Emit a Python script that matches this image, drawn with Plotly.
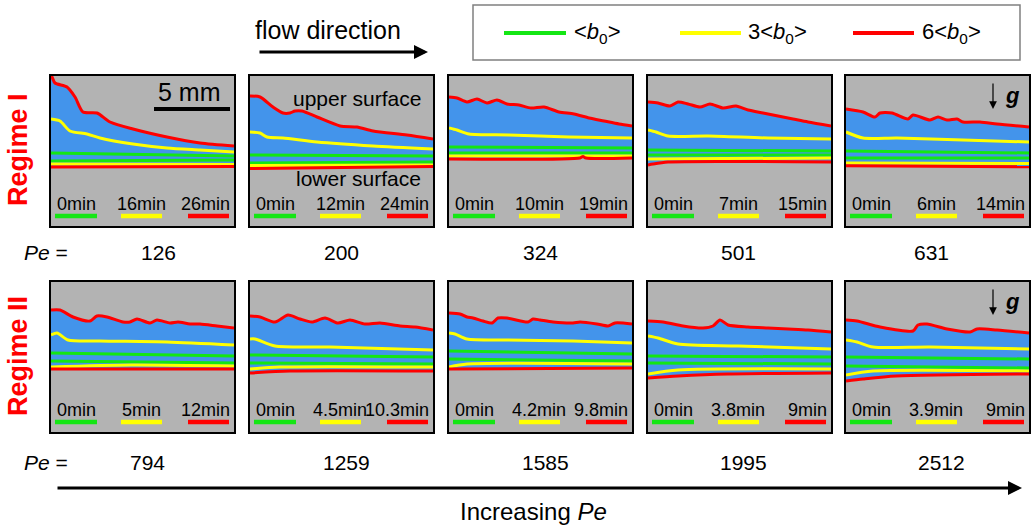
import plotly.graph_objects as go

W, H = 1031, 525

# ---------------- data ----------------
PE_ROW1 = [126, 200, 324, 501, 631]
PE_ROW2 = [794, 1259, 1585, 1995, 2512]

TIMES_ROW1 = [["0min", "16min", "26min"], ["0min", "12min", "24min"], ["0min", "10min", "19min"],
              ["0min", "7min", "15min"], ["0min", "6min", "14min"]]
TIMES_ROW2 = [["0min", "5min", "12min"], ["0min", "4.5min", "10.3min"], ["0min", "4.2min", "9.8min"],
              ["0min", "3.8min", "9min"], ["0min", "3.9min", "9min"]]

LEGEND_LABELS = ["&lt;<i>b</i><sub>0</sub>&gt;", "3&lt;<i>b</i><sub>0</sub>&gt;", "6&lt;<i>b</i><sub>0</sub>&gt;"]

# interface profiles: (x positions, depth from panel top), panel units
R1C1_RED_TOP = ([0, 1, 4, 16, 24, 32, 46, 59, 82, 116, 149, 183], [0, 1, 7, 11, 21, 36, 37, 46, 53, 61, 67, 70])
R1C1_YEL_TOP = ([0, 9, 19, 36, 49, 82, 116, 149, 183], [43, 45, 55, 58, 62, 68, 72, 74, 76])
R1C1_GRN_TOP = ([0, 183], [77, 80])
R1C1_GRN_BOT = ([0, 183], [85, 84])
R1C1_YEL_BOT = ([0, 183], [88, 88.5])
R1C1_RED_BOT = ([0, 183], [91, 90.5])

R1C2_RED_TOP = ([0, 10, 23, 33, 40, 45, 52, 67, 90, 107, 123, 157, 183], [20, 21, 31, 37, 37, 35, 35, 41, 50, 51, 55, 59, 63])
R1C2_YEL_TOP = ([0, 10, 17, 33, 67, 123, 183], [56, 57, 61, 62, 66, 70, 73])
R1C2_GRN_TOP = ([0, 183], [79, 80])
R1C2_GRN_BOT = ([0, 183], [87, 86])
R1C2_YEL_BOT = ([0, 183], [89.5, 89])
R1C2_RED_BOT = ([0, 183], [92.5, 90.5])

R1C3_RED_TOP = ([0, 8, 18, 28, 38, 48, 58, 70, 82, 95, 110, 125, 140, 155, 170, 183],
                [21, 22, 26, 23, 27, 24, 28, 29, 32, 31, 36, 38, 42, 45, 48, 50])
R1C3_YEL_TOP = ([0, 8, 20, 60, 120, 183], [52, 54, 58, 59, 61, 62])
R1C3_GRN_TOP = ([0, 183], [71, 72])
R1C3_GRN_BOT = ([0, 183], [77, 77])
R1C3_YEL_BOT = ([0, 183], [80, 80])
R1C3_RED_BOT = ([0, 131, 134, 137, 183], [83, 82, 80.5, 82, 82])

R1C4_RED_TOP = ([0, 10, 22, 30, 40, 52, 62, 75, 88, 100, 115, 130, 145, 160, 183],
                [26, 27, 30, 26, 28, 31, 28, 32, 30, 34, 37, 40, 43, 46, 50])
R1C4_YEL_TOP = ([0, 8, 20, 60, 120, 183], [54, 56, 60, 60, 62, 63])
R1C4_GRN_TOP = ([0, 183], [74, 75])
R1C4_GRN_BOT = ([0, 183], [79, 79])
R1C4_YEL_BOT = ([0, 183], [83, 82])
R1C4_RED_BOT = ([0, 5, 20, 183], [89, 88, 86, 86])

R1C5_RED_TOP = ([0, 17, 29, 34, 46, 62, 67, 84, 92, 101, 111, 117, 134, 151, 183], [33, 36, 41, 37, 37, 43, 39, 44, 41, 44, 43, 46, 46, 48, 51])
R1C5_YEL_TOP = ([0, 17, 51, 117, 183], [56, 62, 62, 64, 66])
R1C5_GRN_TOP = ([0, 183], [75, 77])
R1C5_GRN_BOT = ([0, 183], [82, 82])
R1C5_YEL_BOT = ([0, 183], [87, 87.5])
R1C5_RED_BOT = ([0, 183], [89.7, 90.7])

R2C1_RED_TOP = ([0, 9, 22, 39, 46, 56, 72, 79, 86, 99, 106, 119, 127, 139, 149, 166, 183], [28, 28, 35, 39, 34, 35, 40, 40, 37, 41, 38, 41, 40, 42, 42, 44, 46])
R2C1_YEL_TOP = ([0, 6, 17, 49, 116, 183], [53, 51, 58, 59, 60, 63])
R2C1_GRN_TOP = ([0, 183], [71, 74])
R2C1_GRN_BOT = ([0, 183], [79, 81])
R2C1_YEL_BOT = ([0, 80, 183], [85, 83, 84])
R2C1_RED_BOT = ([0, 183], [87, 87])

R2C2_RED_TOP = ([0, 10, 25, 38, 50, 62, 75, 88, 100, 115, 130, 150, 165, 183], [34, 35, 40, 33, 37, 40, 36, 41, 38, 42, 41, 44, 45, 48])
R2C2_YEL_TOP = ([0, 5, 25, 80, 183], [57, 57, 64, 65, 68])
R2C2_GRN_TOP = ([0, 183], [73, 75])
R2C2_GRN_BOT = ([0, 183], [81, 82])
R2C2_YEL_BOT = ([0, 30, 183], [87, 85, 85])
R2C2_RED_BOT = ([0, 40, 183], [91, 89, 89])

R2C3_RED_TOP = ([0, 11, 18, 24, 34, 43, 49, 58, 79, 84, 91, 104, 124, 131, 148, 159, 166, 183], [31, 32, 35, 36, 39, 41, 36, 36, 40, 37, 38, 40, 41, 40, 42, 44, 41, 42])
R2C3_YEL_TOP = ([0, 6, 18, 58, 124, 183], [51, 52, 57, 58, 59, 61])
R2C3_GRN_TOP = ([0, 183], [69, 72])
R2C3_GRN_BOT = ([0, 183], [77, 79])
R2C3_YEL_BOT = ([0, 18, 183], [85, 82, 82])
R2C3_RED_BOT = ([0, 183], [87, 86])

R2C4_RED_TOP = ([0, 15, 35, 55, 65, 72, 80, 100, 120, 140, 160, 183], [39, 40, 44, 46, 44, 38, 43, 45, 46, 47, 48, 50])
R2C4_YEL_TOP = ([0, 10, 30, 90, 183], [54, 56, 62, 64, 67])
R2C4_GRN_TOP = ([0, 183], [74, 75])
R2C4_GRN_BOT = ([0, 183], [81, 82])
R2C4_YEL_BOT = ([0, 30, 183], [92, 88, 87])
R2C4_RED_BOT = ([0, 30, 80, 183], [96, 94, 92, 91])

R2C5_RED_TOP = ([0, 11, 34, 67, 72, 81, 101, 124, 131, 151, 183], [38, 39, 45, 49, 43, 42, 47, 50, 47, 48, 51])
R2C5_YEL_TOP = ([0, 11, 27, 84, 183], [58, 60, 65, 65, 67])
R2C5_GRN_TOP = ([0, 183], [75, 77])
R2C5_GRN_BOT = ([0, 183], [84, 86])
R2C5_YEL_BOT = ([0, 27, 183], [93, 89, 89])
R2C5_RED_BOT = ([0, 17, 50, 183], [99, 97, 94, 92])

PANELS = [
    (R1C1_RED_TOP, R1C1_YEL_TOP, R1C1_GRN_TOP, R1C1_GRN_BOT, R1C1_YEL_BOT, R1C1_RED_BOT),
    (R1C2_RED_TOP, R1C2_YEL_TOP, R1C2_GRN_TOP, R1C2_GRN_BOT, R1C2_YEL_BOT, R1C2_RED_BOT),
    (R1C3_RED_TOP, R1C3_YEL_TOP, R1C3_GRN_TOP, R1C3_GRN_BOT, R1C3_YEL_BOT, R1C3_RED_BOT),
    (R1C4_RED_TOP, R1C4_YEL_TOP, R1C4_GRN_TOP, R1C4_GRN_BOT, R1C4_YEL_BOT, R1C4_RED_BOT),
    (R1C5_RED_TOP, R1C5_YEL_TOP, R1C5_GRN_TOP, R1C5_GRN_BOT, R1C5_YEL_BOT, R1C5_RED_BOT),
    (R2C1_RED_TOP, R2C1_YEL_TOP, R2C1_GRN_TOP, R2C1_GRN_BOT, R2C1_YEL_BOT, R2C1_RED_BOT),
    (R2C2_RED_TOP, R2C2_YEL_TOP, R2C2_GRN_TOP, R2C2_GRN_BOT, R2C2_YEL_BOT, R2C2_RED_BOT),
    (R2C3_RED_TOP, R2C3_YEL_TOP, R2C3_GRN_TOP, R2C3_GRN_BOT, R2C3_YEL_BOT, R2C3_RED_BOT),
    (R2C4_RED_TOP, R2C4_YEL_TOP, R2C4_GRN_TOP, R2C4_GRN_BOT, R2C4_YEL_BOT, R2C4_RED_BOT),
    (R2C5_RED_TOP, R2C5_YEL_TOP, R2C5_GRN_TOP, R2C5_GRN_BOT, R2C5_YEL_BOT, R2C5_RED_BOT),
]

# ---------------- style / layout ----------------
FONT = "Liberation Sans, Arial, sans-serif"
GRAY = "#b3b3b3"
BLUE = "#4394eb"
GREEN = "#14e614"
YELLOW = "#ffff00"
RED = "#ff0000"

PANEL_X0 = [51, 250, 449, 648, 846]
PANEL_W = 183
ROW_Y0 = [76, 282]
PANEL_H = 150


def px(x):
    return x / W


def py(y):
    return 1 - y / H


fig = go.Figure()
shapes = []
annotations = []
axes = {}

for k, curves in enumerate(PANELS):
    r, c = divmod(k, 5)
    sfx = "" if k == 0 else str(k + 1)
    xa, ya = "x" + sfx, "y" + sfx
    x0, y0 = PANEL_X0[c], ROW_Y0[r]
    common = dict(showgrid=False, zeroline=False, showticklabels=False, ticks="",
                  showline=True, mirror=True, linecolor="black", linewidth=1.6, fixedrange=True)
    axes["xaxis" + sfx] = dict(domain=[px(x0), px(x0 + PANEL_W)], range=[0, PANEL_W], anchor=ya, **common)
    axes["yaxis" + sfx] = dict(domain=[py(y0 + PANEL_H), py(y0)], range=[PANEL_H, 0], anchor=xa, **common)

    red_top, yel_top, grn_top, grn_bot, yel_bot, red_bot = curves
    # blue liquid region between lower and upper 6<b0> interfaces
    fig.add_trace(go.Scatter(x=red_bot[0], y=red_bot[1], mode="lines",
                             line=dict(width=0, shape="spline", smoothing=0.7, color=BLUE),
                             xaxis=xa, yaxis=ya, hoverinfo="skip", showlegend=False))
    fig.add_trace(go.Scatter(x=red_top[0], y=red_top[1], mode="lines", fill="tonexty", fillcolor=BLUE,
                             line=dict(width=0, shape="spline", smoothing=0.7, color=BLUE),
                             xaxis=xa, yaxis=ya, hoverinfo="skip", showlegend=False))
    for crv, col in [(grn_top, GREEN), (grn_bot, GREEN), (yel_bot, YELLOW), (yel_top, YELLOW),
                     (red_bot, RED), (red_top, RED)]:
        fig.add_trace(go.Scatter(x=crv[0], y=crv[1], mode="lines",
                                 line=dict(color=col, width=3, shape="spline", smoothing=0.7),
                                 xaxis=xa, yaxis=ya, hoverinfo="skip", showlegend=False))

    times = (TIMES_ROW1 if r == 0 else TIMES_ROW2)[c]
    for t, xpos, anc in zip(times, [4, 90, 181], ["left", "center", "right"]):
        annotations.append(dict(x=xpos, y=128, xref=xa, yref=ya, text=t, showarrow=False,
                                xanchor=anc, yanchor="middle", font=dict(size=18, color="black", family=FONT)))
    for (a, b), col in zip([(4, 46), (70, 111), (137, 178)], [GREEN, YELLOW, RED]):
        shapes.append(dict(type="line", xref=xa, yref=ya, x0=a, x1=b, y0=140, y1=140,
                           line=dict(color=col, width=4.5)))

    if c == 4:
        annotations.append(dict(x=147, y=33, xref=xa, yref=ya, ax=0, ay=-27, text="", showarrow=True,
                                arrowhead=2, arrowsize=1.3, arrowwidth=1.2, arrowcolor="black"))
        annotations.append(dict(x=166, y=19, xref=xa, yref=ya, text="<b><i>g</i></b>", showarrow=False,
                                xanchor="center", yanchor="middle", font=dict(size=22, color="black", family=FONT)))
    if k == 0:
        shapes.append(dict(type="line", xref=xa, yref=ya, x0=103, x1=179, y0=33, y1=33,
                           line=dict(color="black", width=4)))
        annotations.append(dict(x=138, y=16, xref=xa, yref=ya, text="5 mm", showarrow=False,
                                xanchor="center", yanchor="middle", font=dict(size=25, color="black", family=FONT)))
    if k == 1:
        annotations.append(dict(x=107, y=22, xref=xa, yref=ya, text="upper surface", showarrow=False,
                                xanchor="center", yanchor="middle", font=dict(size=21, color="black", family=FONT)))
        annotations.append(dict(x=108, y=102, xref=xa, yref=ya, text="lower surface", showarrow=False,
                                xanchor="center", yanchor="middle", font=dict(size=21, color="black", family=FONT)))

fig.update_layout(**axes)

# Pe rows
for row_vals, yy in [(PE_ROW1, 253), (PE_ROW2, 462)]:
    annotations.append(dict(x=px(22), y=py(yy), xref="paper", yref="paper", text="<i>Pe</i> =",
                            showarrow=False, xanchor="left", yanchor="middle",
                            font=dict(size=21, color="black", family=FONT)))
centers_r1 = [158, 341, 540, 738, 931]
centers_r2 = [147, 346, 545, 743, 941]
for v, cx in zip(PE_ROW1, centers_r1):
    annotations.append(dict(x=px(cx), y=py(253), xref="paper", yref="paper", text=str(v), showarrow=False,
                            xanchor="center", yanchor="middle", font=dict(size=21, color="black", family=FONT)))
for v, cx in zip(PE_ROW2, centers_r2):
    annotations.append(dict(x=px(cx), y=py(462), xref="paper", yref="paper", text=str(v), showarrow=False,
                            xanchor="center", yanchor="middle", font=dict(size=21, color="black", family=FONT)))

# Regime labels
for txt, yy in [("<b>Regime I</b>", 150), ("<b>Regime II</b>", 356)]:
    annotations.append(dict(x=px(18), y=py(yy), xref="paper", yref="paper", text=txt, textangle=-90,
                            showarrow=False, xanchor="center", yanchor="middle",
                            font=dict(size=27, color=RED, family=FONT)))

# flow direction
annotations.append(dict(x=px(253), y=py(30), xref="paper", yref="paper", text="flow direction", showarrow=False,
                        xanchor="left", yanchor="middle", font=dict(size=25, color="black", family=FONT)))
annotations.append(dict(x=px(428), y=py(52), xref="paper", yref="paper", ax=-170, ay=0, text="",
                        showarrow=True, arrowhead=2, arrowsize=1, arrowwidth=2.8, arrowcolor="black"))

# Increasing Pe
annotations.append(dict(x=px(1022), y=py(488), xref="paper", yref="paper", ax=-966, ay=0, text="",
                        showarrow=True, arrowhead=2, arrowsize=1, arrowwidth=2.8, arrowcolor="black"))
annotations.append(dict(x=px(533), y=py(511), xref="paper", yref="paper", text="Increasing <i>Pe</i>",
                        showarrow=False, xanchor="center", yanchor="middle",
                        font=dict(size=24, color="black", family=FONT)))

# legend box
shapes.append(dict(type="rect", xref="paper", yref="paper", x0=px(473), x1=px(1020), y0=py(60), y1=py(5),
                   line=dict(color="#808080", width=1.5), fillcolor="white", layer="below"))
for (a, b), col, lab, tx in zip([(504, 566), (680, 741), (853, 914)], [GREEN, YELLOW, RED], LEGEND_LABELS,
                                [572, 746, 920]):
    shapes.append(dict(type="line", xref="paper", yref="paper", x0=px(a), x1=px(b), y0=py(33), y1=py(33),
                       line=dict(color=col, width=4)))
    annotations.append(dict(x=px(tx), y=py(33), xref="paper", yref="paper", text=lab, showarrow=False,
                            xanchor="left", yanchor="middle", font=dict(size=22, color="black", family=FONT)))

fig.update_layout(
    width=W, height=H, margin=dict(l=0, r=0, t=0, b=0),
    paper_bgcolor="white", plot_bgcolor=GRAY,
    shapes=shapes, annotations=annotations, showlegend=False,
    font=dict(family=FONT),
)

fig.write_html("out.html", config={"displayModeBar": False},
               post_script="document.body.style.margin='0';document.body.style.overflow='hidden';")
